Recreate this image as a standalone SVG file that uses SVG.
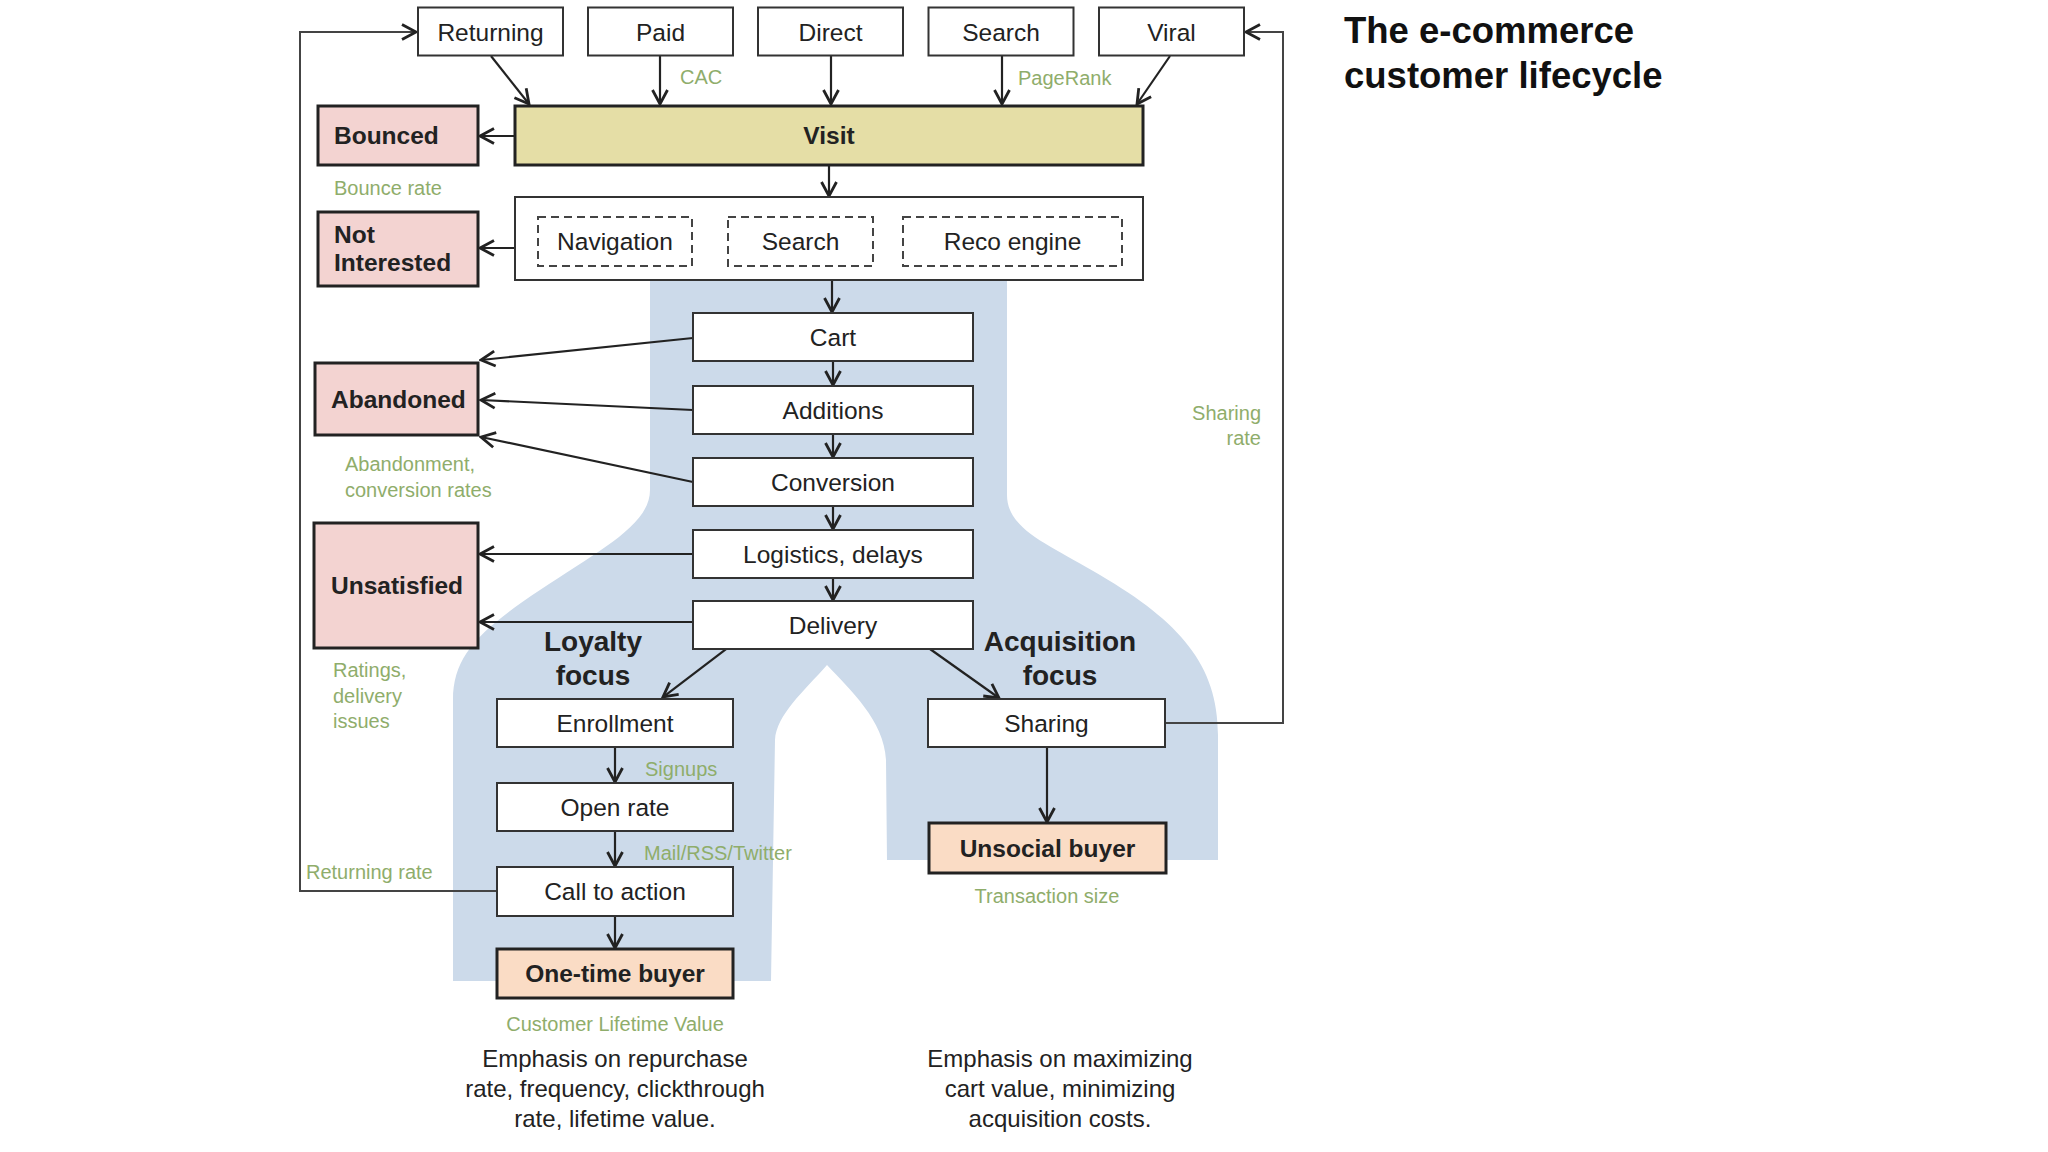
<svg xmlns="http://www.w3.org/2000/svg" width="2048" height="1152" viewBox="0 0 2048 1152">
<style>
text{font-family:"Liberation Sans",Arial,Helvetica,sans-serif;fill:#222}
.box{fill:#fff;stroke:#333;stroke-width:2}
.dash{fill:none;stroke:#444;stroke-width:2;stroke-dasharray:8 5}
.bad{fill:#f3d3d1;stroke:#222;stroke-width:3}
.buyer{fill:#fadcc5;stroke:#222;stroke-width:3}
.visit{fill:#e5dea6;stroke:#222;stroke-width:3}
.t{font-size:24.5px;text-anchor:middle}
.b{font-size:24.5px;font-weight:bold}
.bc{font-size:24.5px;font-weight:bold;text-anchor:middle}
.g{font-size:20px;fill:#8fad6b}
.focus{font-size:28px;font-weight:bold;text-anchor:middle}
.em{font-size:24px;text-anchor:middle}
.c{fill:none;stroke:#222;stroke-width:2.2}
.loop{fill:none;stroke:#444;stroke-width:2}
</style>
<defs>
<marker id="ah" viewBox="0 0 18 18" refX="16" refY="9" markerWidth="18" markerHeight="18" markerUnits="userSpaceOnUse" orient="auto">
<path d="M2,1.5 L16,9 L2,16.5" fill="none" stroke="#222" stroke-width="2.8" stroke-linejoin="miter"/>
</marker>
</defs>
<rect width="2048" height="1152" fill="#fff"/>
<path id="funnel" d="M650,275 L1007,275 L1007,495 C1007,530 1050,545 1100,575 C1180,622 1218,665 1218,735 L1218,860 L887,860 L886,760 C884,720 850,690 827,665 C805,690 776,715 775,740 L771,981 L453,981 L453,700 C453,655 480,630 540,590 C600,550 650,525 650,490 Z" fill="#ccdaea"/>

<g id="connectors">
<line class="c" x1="491" y1="56" x2="529" y2="104" marker-end="url(#ah)"/>
<line class="c" x1="660" y1="56" x2="660" y2="104" marker-end="url(#ah)"/>
<line class="c" x1="831" y1="56" x2="831" y2="104" marker-end="url(#ah)"/>
<line class="c" x1="1002" y1="56" x2="1002" y2="104" marker-end="url(#ah)"/>
<line class="c" x1="1170" y1="56" x2="1137" y2="104" marker-end="url(#ah)"/>
<line class="c" x1="515" y1="136" x2="480" y2="136" marker-end="url(#ah)"/>
<line class="c" x1="829" y1="166" x2="829" y2="196" marker-end="url(#ah)"/>
<line class="c" x1="515" y1="248" x2="480" y2="248" marker-end="url(#ah)"/>
<line class="c" x1="832" y1="281" x2="832" y2="312" marker-end="url(#ah)"/>
<line class="c" x1="833" y1="361" x2="833" y2="385" marker-end="url(#ah)"/>
<line class="c" x1="833" y1="434" x2="833" y2="457" marker-end="url(#ah)"/>
<line class="c" x1="833" y1="506" x2="833" y2="529" marker-end="url(#ah)"/>
<line class="c" x1="833" y1="578" x2="833" y2="600" marker-end="url(#ah)"/>
<line class="c" x1="693" y1="338" x2="481" y2="360" marker-end="url(#ah)"/>
<line class="c" x1="693" y1="410" x2="481" y2="400" marker-end="url(#ah)"/>
<line class="c" x1="693" y1="482" x2="481" y2="437" marker-end="url(#ah)"/>
<line class="c" x1="693" y1="554" x2="480" y2="554" marker-end="url(#ah)"/>
<line class="c" x1="693" y1="622" x2="480" y2="622" marker-end="url(#ah)"/>
<line class="c" x1="726" y1="649" x2="663" y2="697" marker-end="url(#ah)"/>
<line class="c" x1="930" y1="649" x2="999" y2="698" marker-end="url(#ah)"/>
<line class="c" x1="615" y1="747" x2="615" y2="782" marker-end="url(#ah)"/>
<line class="c" x1="615" y1="831" x2="615" y2="866" marker-end="url(#ah)"/>
<line class="c" x1="615" y1="916" x2="615" y2="948" marker-end="url(#ah)"/>
<line class="c" x1="1047" y1="747" x2="1047" y2="822" marker-end="url(#ah)"/>
<polyline class="loop" points="497,891 300,891 300,32 416,32" marker-end="url(#ah)"/>
<polyline class="loop" points="1165,723 1283,723 1283,32 1246,32" marker-end="url(#ah)"/>
</g>

<g id="labels">
<text class="g" x="680" y="84">CAC</text>
<text class="g" x="1018" y="85">PageRank</text>
<text class="g" x="334" y="195">Bounce rate</text>
<text class="g" x="345" y="471">Abandonment,</text>
<text class="g" x="345" y="497">conversion rates</text>
<text class="g" x="333" y="677">Ratings,</text>
<text class="g" x="333" y="703">delivery</text>
<text class="g" x="333" y="728">issues</text>
<text class="g" x="645" y="776">Signups</text>
<text class="g" x="644" y="860">Mail/RSS/Twitter</text>
<text class="g" x="306" y="879">Returning rate</text>
<text class="g" x="615" y="1031" text-anchor="middle">Customer Lifetime Value</text>
<text class="g" x="1047" y="903" text-anchor="middle">Transaction size</text>
<text class="g" x="1261" y="420" text-anchor="end">Sharing</text>
<text class="g" x="1261" y="445" text-anchor="end">rate</text>
<text class="focus" x="593" y="651">Loyalty</text>
<text class="focus" x="593" y="685">focus</text>
<text class="focus" x="1060" y="651">Acquisition</text>
<text class="focus" x="1060" y="685">focus</text>
<text class="em" x="615" y="1067">Emphasis on repurchase</text>
<text class="em" x="615" y="1097">rate, frequency, clickthrough</text>
<text class="em" x="615" y="1127">rate, lifetime value.</text>
<text class="em" x="1060" y="1067">Emphasis on maximizing</text>
<text class="em" x="1060" y="1097">cart value, minimizing</text>
<text class="em" x="1060" y="1127">acquisition costs.</text>
</g>

<g id="title">
<text x="1344" y="43" style="font-size:36.5px;font-weight:bold;fill:#111">The e-commerce</text>
<text x="1344" y="88" style="font-size:36.5px;font-weight:bold;fill:#111">customer lifecycle</text>
</g>

<g id="node-returning"><rect class="box" x="418" y="7.5" width="145" height="48"/><text class="t" x="490.5" y="41">Returning</text></g>
<g id="node-paid"><rect class="box" x="588" y="7.5" width="145" height="48"/><text class="t" x="660.5" y="41">Paid</text></g>
<g id="node-direct"><rect class="box" x="758" y="7.5" width="145" height="48"/><text class="t" x="830.5" y="41">Direct</text></g>
<g id="node-search"><rect class="box" x="928.5" y="7.5" width="145" height="48"/><text class="t" x="1001" y="41">Search</text></g>
<g id="node-viral"><rect class="box" x="1099" y="7.5" width="145" height="48"/><text class="t" x="1171.5" y="41">Viral</text></g>

<g id="node-visit"><rect class="visit" x="515" y="106" width="628" height="59"/><text class="bc" x="829" y="144">Visit</text></g>
<g id="node-bounced"><rect class="bad" x="318" y="106" width="160" height="59"/><text class="b" x="334" y="144">Bounced</text></g>

<g id="node-discovery"><rect class="box" x="515" y="197" width="628" height="83"/>
<g id="node-navigation"><rect class="dash" x="538" y="217" width="154" height="49"/><text class="t" x="615" y="250">Navigation</text></g>
<g id="node-search-site"><rect class="dash" x="728" y="217" width="145" height="49"/><text class="t" x="800.5" y="250">Search</text></g>
<g id="node-reco"><rect class="dash" x="903" y="217" width="219" height="49"/><text class="t" x="1012.5" y="250">Reco engine</text></g>
</g>
<g id="node-notinterested"><rect class="bad" x="318" y="212" width="160" height="74"/><text class="b" x="334" y="243">Not</text><text class="b" x="334" y="271">Interested</text></g>

<g id="node-cart"><rect class="box" x="693" y="313" width="280" height="48"/><text class="t" x="833" y="346">Cart</text></g>
<g id="node-additions"><rect class="box" x="693" y="386" width="280" height="48"/><text class="t" x="833" y="419">Additions</text></g>
<g id="node-conversion"><rect class="box" x="693" y="458" width="280" height="48"/><text class="t" x="833" y="491">Conversion</text></g>
<g id="node-logistics"><rect class="box" x="693" y="530" width="280" height="48"/><text class="t" x="833" y="563">Logistics, delays</text></g>
<g id="node-delivery"><rect class="box" x="693" y="601" width="280" height="48"/><text class="t" x="833" y="634">Delivery</text></g>

<g id="node-abandoned"><rect class="bad" x="315" y="363" width="163" height="72"/><text class="b" x="331" y="408">Abandoned</text></g>
<g id="node-unsatisfied"><rect class="bad" x="314" y="523" width="164" height="125"/><text class="b" x="331" y="594">Unsatisfied</text></g>

<g id="node-enrollment"><rect class="box" x="497" y="699" width="236" height="48"/><text class="t" x="615" y="732">Enrollment</text></g>
<g id="node-openrate"><rect class="box" x="497" y="783" width="236" height="48"/><text class="t" x="615" y="816">Open rate</text></g>
<g id="node-cta"><rect class="box" x="497" y="867" width="236" height="49"/><text class="t" x="615" y="900">Call to action</text></g>
<g id="node-onetime"><rect class="buyer" x="497" y="949" width="236" height="49"/><text class="bc" x="615" y="982">One-time buyer</text></g>

<g id="node-sharing"><rect class="box" x="928" y="699" width="237" height="48"/><text class="t" x="1046.5" y="732">Sharing</text></g>
<g id="node-unsocial"><rect class="buyer" x="929" y="823" width="237" height="50"/><text class="bc" x="1047.5" y="857">Unsocial buyer</text></g>
</svg>
